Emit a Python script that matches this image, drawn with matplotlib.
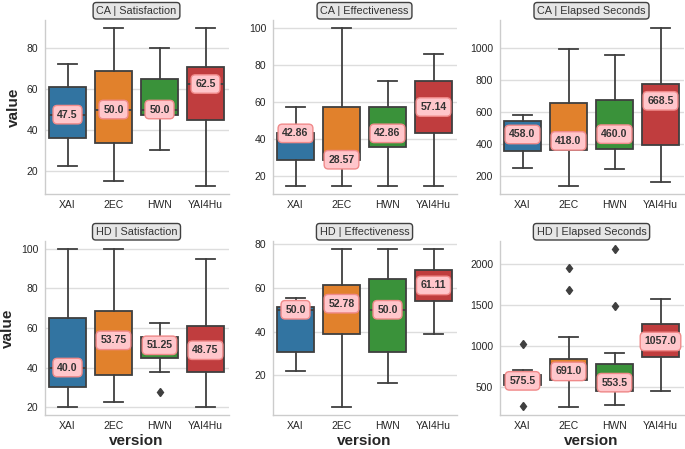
import matplotlib
matplotlib.use("Agg")
import matplotlib.pyplot as plt
from matplotlib.ticker import MaxNLocator

plt.rcParams['font.family'] = ['Liberation Sans', 'DejaVu Sans']

versions = ['XAI', '2EC', 'HWN', 'YAI4Hu']
colors = ['#3274a1', '#e1812c', '#3a923a', '#c03d3e']

# per panel: whisker low, q1, median, q3, whisker high, fliers
ca_sat_lo = [22.5, 15.0, 30.0, 12.5]
ca_sat_q1 = [36.25, 33.75, 47.5, 45.0]
ca_sat_med = [47.5, 50.0, 50.0, 62.5]
ca_sat_q3 = [61.25, 68.75, 65.0, 70.625]
ca_sat_hi = [72.5, 90.0, 80.0, 90.0]
ca_sat_fl = [[], [], [], []]

ca_eff_lo = [14.29, 14.29, 14.29, 14.29]
ca_eff_q1 = [28.57, 28.57, 35.71, 42.86]
ca_eff_med = [42.86, 28.57, 42.86, 57.14]
ca_eff_q3 = [42.86, 57.14, 57.14, 71.43]
ca_eff_hi = [57.14, 100.0, 71.43, 85.71]
ca_eff_fl = [[], [], [], []]

ca_sec_lo = [248, 135, 244, 160]
ca_sec_q1 = [356, 360, 367, 390]
ca_sec_med = [458.0, 418.0, 460.0, 668.5]
ca_sec_q3 = [544, 654, 673, 775]
ca_sec_hi = [581, 994, 958, 1125]
ca_sec_fl = [[], [], [], []]

hd_sat_lo = [20.0, 22.5, 37.5, 20.0]
hd_sat_q1 = [30.0, 36.25, 45.0, 37.5]
hd_sat_med = [40.0, 53.75, 51.25, 48.75]
hd_sat_q3 = [65.0, 68.75, 55.5, 61.25]
hd_sat_hi = [100.0, 100.0, 62.5, 95.0]
hd_sat_fl = [[], [], [27.5], []]

hd_eff_lo = [22.22, 5.56, 16.67, 38.89]
hd_eff_q1 = [30.56, 38.89, 30.56, 54.17]
hd_eff_med = [50.0, 52.78, 50.0, 61.11]
hd_eff_q3 = [51.39, 61.11, 63.89, 68.06]
hd_eff_hi = [55.56, 77.78, 77.78, 77.78]
hd_eff_fl = [[], [], [], []]

hd_sec_lo = [500, 255, 275, 451]
hd_sec_q1 = [529, 582, 447, 868]
hd_sec_med = [575.5, 691.0, 553.5, 1057.0]
hd_sec_q3 = [643, 839, 786, 1268]
hd_sec_hi = [704, 1113, 917, 1575]
hd_sec_fl = [[263, 1023], [1685, 1951], [1493, 2188], []]

panels = [
    ('CA | Satisfaction', ca_sat_lo, ca_sat_q1, ca_sat_med, ca_sat_q3, ca_sat_hi, ca_sat_fl),
    ('CA | Effectiveness', ca_eff_lo, ca_eff_q1, ca_eff_med, ca_eff_q3, ca_eff_hi, ca_eff_fl),
    ('CA | Elapsed Seconds', ca_sec_lo, ca_sec_q1, ca_sec_med, ca_sec_q3, ca_sec_hi, ca_sec_fl),
    ('HD | Satisfaction', hd_sat_lo, hd_sat_q1, hd_sat_med, hd_sat_q3, hd_sat_hi, hd_sat_fl),
    ('HD | Effectiveness', hd_eff_lo, hd_eff_q1, hd_eff_med, hd_eff_q3, hd_eff_hi, hd_eff_fl),
    ('HD | Elapsed Seconds', hd_sec_lo, hd_sec_q1, hd_sec_med, hd_sec_q3, hd_sec_hi, hd_sec_fl),
]

W, H = 685, 449
fig = plt.figure(figsize=(W / 100, H / 100), dpi=100)
lefts = [44.5, 272.5, 499.5]
tops = [20, 241]
aw, ah = 184, 174

line_col = '#3f3f3f'
for i, (title, lo, q1, med, q3, hi, fl) in enumerate(panels):
    r, c = divmod(i, 3)
    ax = fig.add_axes([lefts[c] / W, 1 - (tops[r] + ah) / H, aw / W, ah / H])
    stats = [dict(whislo=lo[k], q1=q1[k], med=med[k], q3=q3[k], whishi=hi[k], fliers=fl[k])
             for k in range(len(versions))]
    bp = ax.bxp(stats, positions=range(len(versions)), widths=0.8, capwidths=0.4,
                patch_artist=True, showfliers=True,
                boxprops=dict(edgecolor=line_col, linewidth=1.3),
                whiskerprops=dict(color=line_col, linewidth=1.3),
                capprops=dict(color=line_col, linewidth=1.3),
                medianprops=dict(color=line_col, linewidth=1.3),
                flierprops=dict(marker='d', markerfacecolor=line_col, markeredgecolor=line_col,
                                markersize=4.5, linestyle='none'))
    for patch, col in zip(bp['boxes'], colors):
        patch.set_facecolor(col)
    for k, m in enumerate(med):
        ax.text(k, m, str(m), ha='center', va='center', fontsize=7.6, fontweight='bold',
                color='#333333', zorder=5,
                bbox=dict(boxstyle='round,pad=0.4', facecolor='#ffc6cb', edgecolor='#f08a8a',
                          linewidth=1))
    ax.set_xlim(-0.5, len(versions) - 0.5)
    ax.set_xticks(range(len(versions)))
    ax.set_xticklabels(versions)
    ax.yaxis.set_major_locator(MaxNLocator(nbins=6, steps=[1, 2, 5, 10]))
    ax.tick_params(length=0, labelsize=7.5, colors='#262626', pad=4.5)
    ax.yaxis.grid(True, color='#dddddd', linewidth=1)
    ax.set_axisbelow(True)
    for s in ['top', 'right']:
        ax.spines[s].set_visible(False)
    for s in ['left', 'bottom']:
        ax.spines[s].set_color('#cccccc')
        ax.spines[s].set_linewidth(1)
    ax.set_title(title, fontsize=7.8, color='#333333', pad=4.5,
                 bbox=dict(boxstyle='round,pad=0.3', facecolor='#e6e6e6', edgecolor='#404040',
                           linewidth=1))
    if c == 0:
        ax.set_ylabel('value', fontsize=11, fontweight='bold', color='#262626')
    if r == 1:
        ax.set_xlabel('version', fontsize=11, fontweight='bold', color='#262626', labelpad=2)

fig.savefig('out.png', dpi=100)
